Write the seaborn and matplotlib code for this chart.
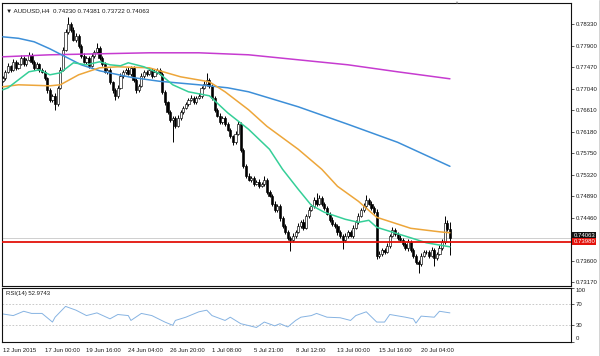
import numpy as np
import matplotlib
matplotlib.use("Agg")
import matplotlib.pyplot as plt
import matplotlib.transforms as mtransforms
import seaborn as sns

# ---------------- data ----------------
first_open = 0.7720
closes = [
    0.7726, 0.7738, 0.7750, 0.7742, 0.7758, 0.7746, 0.7754, 0.7766, 0.7754, 0.7762,
    0.7772, 0.7758, 0.7746, 0.7754, 0.7742, 0.7738, 0.7726, 0.7702, 0.7682, 0.7690,
    0.7674, 0.7706, 0.7742, 0.7782, 0.7818, 0.7834, 0.7822, 0.7802, 0.7810, 0.7790,
    0.7770, 0.7758, 0.7766, 0.7750, 0.7770, 0.7778, 0.7786, 0.7766, 0.7754, 0.7738,
    0.7742, 0.7718, 0.7702, 0.7690, 0.7706, 0.7730, 0.7738, 0.7742, 0.7734, 0.7746,
    0.7722, 0.7702, 0.7710, 0.7730, 0.7738, 0.7734, 0.7742, 0.7730, 0.7738, 0.7742,
    0.7734, 0.7698, 0.7678, 0.7658, 0.7642, 0.7646, 0.7630, 0.7646, 0.7658, 0.7666,
    0.7674, 0.7682, 0.7686, 0.7678, 0.7686, 0.7690, 0.7706, 0.7714, 0.7722, 0.7710,
    0.7686, 0.7662, 0.7650, 0.7638, 0.7646, 0.7634, 0.7622, 0.7610, 0.7598, 0.7614,
    0.7634, 0.7582, 0.7550, 0.7530, 0.7522, 0.7526, 0.7514, 0.7518, 0.7510, 0.7514,
    0.7522, 0.7498, 0.7490, 0.7474, 0.7462, 0.7470, 0.7446, 0.7430, 0.7418, 0.7406,
    0.7402, 0.7410, 0.7418, 0.7430, 0.7438, 0.7426, 0.7450, 0.7462, 0.7470, 0.7482,
    0.7474, 0.7486, 0.7474, 0.7466, 0.7454, 0.7442, 0.7434, 0.7430, 0.7418, 0.7410,
    0.7402, 0.7410, 0.7418, 0.7410, 0.7426, 0.7438, 0.7450, 0.7462, 0.7470, 0.7482,
    0.7474, 0.7466, 0.7458, 0.7370, 0.7374, 0.7382, 0.7378, 0.7390, 0.7410, 0.7422,
    0.7414, 0.7406, 0.7402, 0.7394, 0.7386, 0.7398, 0.7382, 0.7370, 0.7358, 0.7354,
    0.7370, 0.7378, 0.7378, 0.7370, 0.7382, 0.7366, 0.7374, 0.7386, 0.7398, 0.7435,
    0.7423, 0.74063,
]
upper_wick_pips = [
    4, 3, 5, 2, 6, 3, 4, 5, 3, 4,
    5, 3, 4, 3, 2, 4, 3, 2, 4, 3,
    5, 4, 6, 5, 6, 13, 4, 5, 6, 3,
    4, 5, 3, 4, 6, 4, 10, 3, 4, 3,
    4, 3, 2, 4, 5, 6, 4, 3, 5, 4,
    3, 4, 3, 5, 4, 3, 4, 3, 5, 4,
    3, 4, 3, 2, 4, 3, 4, 5, 4, 3,
    4, 3, 5, 4, 3, 5, 4, 6, 14, 4,
    3, 4, 3, 5, 4, 3, 4, 3, 2, 5,
    6, 4, 3, 4, 5, 3, 4, 3, 5, 4,
    7, 3, 4, 3, 5, 4, 3, 4, 3, 4,
    3, 5, 4, 6, 4, 5, 4, 5, 4, 6,
    14, 5, 4, 3, 4, 3, 5, 4, 3, 4,
    3, 5, 4, 3, 5, 4, 6, 4, 5, 10,
    4, 5, 4, 6, 5, 4, 3, 5, 4, 6,
    4, 3, 5, 4, 3, 5, 4, 3, 4, 3,
    5, 4, 3, 4, 5, 3, 4, 5, 6, 15,
    6, 15.1,
]
lower_wick_pips = [
    3, 4, 3, 5, 3, 4, 2, 3, 5, 4,
    3, 4, 5, 3, 4, 3, 4, 6, 4, 5,
    12, 4, 3, 2, 3, 4, 5, 3, 4, 5,
    4, 3, 5, 4, 3, 4, 3, 5, 4, 3,
    5, 4, 6, 8, 4, 3, 4, 5, 3, 4,
    5, 6, 4, 3, 4, 5, 3, 4, 3, 4,
    3, 5, 6, 4, 5, 45, 4, 3, 4, 5,
    3, 4, 3, 5, 4, 3, 4, 3, 4, 5,
    4, 5, 3, 4, 5, 4, 3, 5, 6, 4,
    3, 4, 5, 4, 3, 5, 4, 3, 4, 3,
    4, 5, 3, 4, 5, 4, 6, 5, 4, 5,
    22, 4, 5, 3, 4, 5, 3, 4, 3, 4,
    5, 3, 4, 5, 3, 4, 5, 4, 6, 5,
    18, 4, 5, 3, 4, 3, 4, 3, 4, 5,
    3, 4, 5, 6, 5, 4, 5, 3, 4, 3,
    4, 5, 3, 4, 5, 6, 4, 5, 4, 18,
    4, 3, 5, 4, 3, 16, 4, 3, 4, 5,
    4, 34.1,
]

ma_green_idx = [0, 2, 6, 10, 14, 18, 22, 27, 32, 37, 41, 45, 48, 54, 60, 65, 71, 79, 86,
                94, 102, 107, 113, 118, 123, 131, 136, 140, 143, 156, 162, 171]
ma_green_val = [0.7702, 0.7706, 0.7722, 0.7738, 0.7742, 0.7732, 0.7736, 0.7756, 0.7752,
                0.7758, 0.7752, 0.7750, 0.7756, 0.7748, 0.7734, 0.7712, 0.7698, 0.7690,
                0.7656, 0.7623, 0.7583, 0.7543, 0.7503, 0.7471, 0.7457, 0.7443, 0.7437,
                0.7441, 0.7427, 0.7406, 0.7396, 0.7388]
ma_orange_idx = [0, 6, 18, 22, 29, 37, 44, 56, 68, 79, 85, 94, 101, 113, 122, 128, 136,
                 143, 156, 167, 171]
ma_orange_val = [0.7708, 0.7712, 0.7710, 0.7712, 0.7732, 0.7746, 0.7748, 0.7746, 0.7728,
                 0.7718, 0.7698, 0.7662, 0.7629, 0.7583, 0.7543, 0.7509, 0.7479, 0.7447,
                 0.7425, 0.7418, 0.7416]
ma_blue_idx = [0, 6, 12, 18, 24, 30, 37, 49, 60, 75, 86, 94, 113, 132, 151, 171]
ma_blue_val = [0.7808, 0.7805, 0.7798, 0.7784, 0.7768, 0.7752, 0.7740, 0.7727, 0.7719,
               0.7712, 0.7706, 0.7698, 0.7668, 0.7633, 0.7597, 0.7549]
ma_magenta_idx = [0, 18, 37, 56, 75, 94, 113, 132, 151, 171]
ma_magenta_val = [0.7768, 0.7772, 0.7774, 0.7776, 0.7776, 0.7772, 0.7762, 0.7752,
                  0.7738, 0.7724]

rsi_idx = [0, 4, 8, 11, 15, 19, 20, 24, 28, 32, 36, 41, 44, 48, 49, 53, 57, 62, 65, 66,
           70, 75, 78, 80, 85, 87, 91, 97, 100, 104, 106, 109, 112, 114, 118, 120, 124,
           129, 133, 135, 139, 143, 146, 148, 154, 157, 158, 160, 165, 167, 171]
rsi_val = [51, 48, 56, 52, 52, 36, 45, 65, 58, 48, 53, 42, 50, 48, 39, 52, 48, 36, 30, 39,
           45, 55, 58, 48, 39, 45, 33, 26, 36, 29, 33, 27, 39, 45, 48, 52, 45, 44, 39, 48,
           55, 36, 36, 50, 45, 42, 34, 47, 45, 56, 53]

support_level = 0.73980
bid_price = 0.74063
price_ticks = [0.78330, 0.77900, 0.77470, 0.77040, 0.76610, 0.76180, 0.75750,
               0.75320, 0.74890, 0.74460, 0.73600, 0.73170]
date_tick_idx = [0, 16, 32, 48, 64, 80, 96, 112, 128, 144, 160]
date_tick_labels = ["12 Jun 2015", "17 Jun 00:00", "19 Jun 16:00", "24 Jun 04:00",
                    "26 Jun 20:00", "1 Jul 08:00", "5 Jul 21:00", "8 Jul 12:00",
                    "13 Jul 00:00", "15 Jul 16:00", "20 Jul 04:00"]
rsi_ticks = [100, 70, 30, 0]
title_text = "\u25bc AUDUSD,H4  0.74230 0.74381 0.73722 0.74063"
rsi_title = "RSI(14) 52.9743"

# ---------------- style ----------------
sns.set_style("white")
plt.rcParams["font.family"] = ["Liberation Sans", "DejaVu Sans"]
TXT = "#1a1a1a"
FS = 4.3

W, H = 600, 356
fig = plt.figure(figsize=(W / 100, H / 100), dpi=100)
fig.patch.set_facecolor("white")
ax = fig.add_axes([2 / W, 1 - 285.7 / H, 569 / W, 282.7 / H])
ax2 = fig.add_axes([2 / W, 1 - 341.5 / H, 569 / W, 54.0 / H])

xlim = (-0.3, 217.3)

# ---------------- candles ----------------
n = len(closes)
idx = np.arange(n)
c = np.array(closes)
o = np.array([first_open] + closes[:-1])
pip = 0.0001
hi = np.maximum(o, c) + np.array(upper_wick_pips) * pip
lo = np.minimum(o, c) - np.array(lower_wick_pips) * pip
bull = c >= o

ax.vlines(idx, lo, hi, color="black", lw=0.7, zorder=2)
body = np.maximum(np.abs(c - o), 0.00004)
ax.bar(idx, body, bottom=np.minimum(o, c), width=0.82,
       color=np.where(bull, "white", "black"), edgecolor="black", linewidth=0.45,
       zorder=3)

# ---------------- moving averages ----------------
sns.lineplot(x=ma_magenta_idx, y=ma_magenta_val, ax=ax, color="#c63bd0", lw=1.1, zorder=4)
sns.lineplot(x=ma_blue_idx, y=ma_blue_val, ax=ax, color="#3d8fd8", lw=1.1, zorder=4)
sns.lineplot(x=ma_orange_idx, y=ma_orange_val, ax=ax, color="#eda63a", lw=1.1, zorder=4)
sns.lineplot(x=ma_green_idx, y=ma_green_val, ax=ax, color="#35cf98", lw=1.1, zorder=4)

ax.axhline(bid_price, color="#c8c8c8", lw=0.6, zorder=1)
ax.axhline(support_level, color="#e3120b", lw=1.3, zorder=5)

ax.set_xlim(*xlim)
ax.set_ylim(0.73102, 0.78756)
ax.yaxis.tick_right()
ax.set_yticks(price_ticks)
ax.set_yticklabels([f"{v:.5f}" for v in price_ticks])
ax.tick_params(axis="y", direction="out", length=2, width=0.5, labelsize=FS,
               pad=1.5, colors=TXT)
ax.set_xticks([])
ax.set_xlabel("")
ax.set_ylabel("")
for s in ax.spines.values():
    s.set_color("#111111")
    s.set_linewidth(0.8)

tr = mtransforms.blended_transform_factory(ax.transAxes, ax.transData)
ax.text(1.004, bid_price, "0.74063", transform=tr, fontsize=FS, color="white",
        va="bottom", ha="left",
        bbox=dict(facecolor="#111111", edgecolor="none", pad=0.6), zorder=6)
ax.text(1.004, support_level, "0.73980", transform=tr, fontsize=FS, color="white",
        va="center", ha="left",
        bbox=dict(facecolor="#e3120b", edgecolor="none", pad=0.8), zorder=7)

ax.text(4 / 569, 1 - 5 / 282.7, title_text, transform=ax.transAxes, fontsize=4.5,
        color=TXT, va="top", ha="left")

# ---------------- RSI ----------------
ax2.axhline(70, color="#c0c0c0", lw=0.6, ls=(0, (2, 2)))
ax2.axhline(30, color="#c0c0c0", lw=0.6, ls=(0, (2, 2)))
sns.lineplot(x=rsi_idx, y=rsi_val, ax=ax2, color="#86b3e2", lw=0.7)
ax2.set_xlim(*xlim)
ax2.set_ylim(0, 100)
ax2.yaxis.tick_right()
ax2.set_yticks(rsi_ticks)
ax2.set_yticklabels([str(v) for v in rsi_ticks])
ax2.tick_params(axis="y", direction="out", length=2, width=0.5, labelsize=FS,
                pad=1.5, colors=TXT)
for lab, v in zip(ax2.get_yticklabels(), rsi_ticks):
    if v == 100:
        lab.set_va("top")
    elif v == 0:
        lab.set_va("bottom")
ax2.set_xticks(date_tick_idx)
ax2.set_xticklabels(date_tick_labels)
ax2.tick_params(axis="x", direction="out", length=3, width=0.5, labelsize=FS,
                pad=1.5, colors=TXT)
for lab in ax2.get_xticklabels():
    lab.set_ha("left")
ax2.set_xlabel("")
ax2.set_ylabel("")
for s in ax2.spines.values():
    s.set_color("#111111")
    s.set_linewidth(0.8)
ax2.text(4 / 569, 0.94, rsi_title, transform=ax2.transAxes, fontsize=FS,
         color=TXT, va="top", ha="left")

# chart-shift marker and right edge
fig.text(456 / W, 1 - 1 / H, "\u25bc", fontsize=3, color="#999999", ha="center", va="top")
fig.add_artist(plt.Line2D([598.5 / W, 598.5 / W], [0, 1], color="#cccccc", lw=0.6,
                          transform=fig.transFigure))

fig.savefig("out.png", dpi=100, facecolor="white")
